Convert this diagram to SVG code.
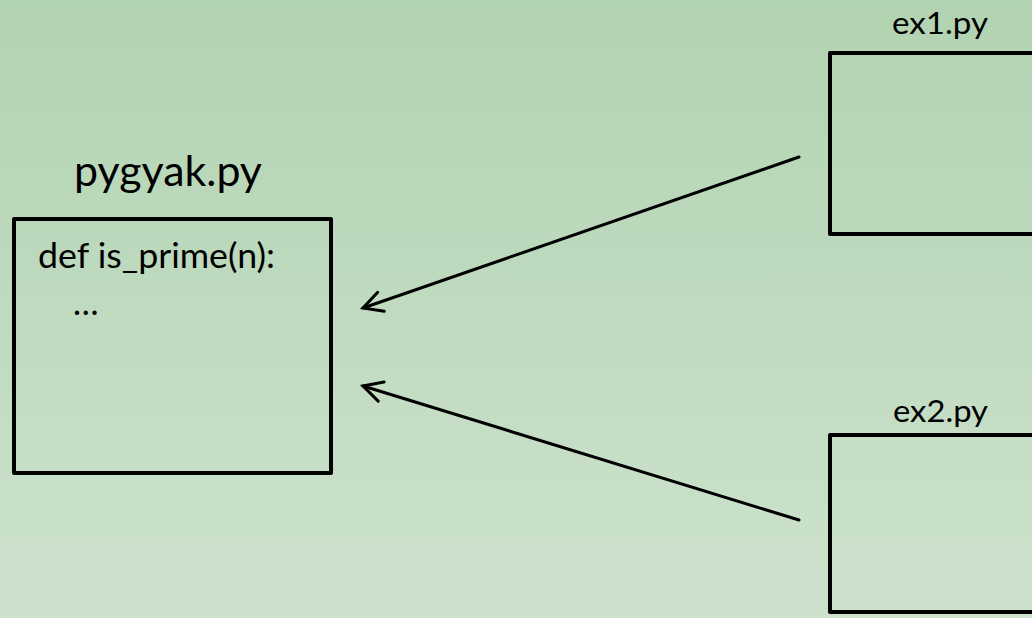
<svg xmlns="http://www.w3.org/2000/svg" width="1032" height="618" viewBox="0 0 1032 618">
<style>
.box{fill:none;stroke:#000;stroke-width:4;stroke-linejoin:round}
.lbl{font-family:Lato,"Open Sans","Liberation Sans",sans-serif;fill:#000}
.conn{fill:none;stroke:#000;stroke-width:3;stroke-linecap:round}
</style>
<defs>
<linearGradient id="bg" x1="0" y1="0" x2="0" y2="1">
<stop offset="0" stop-color="#b2d3b2"/>
<stop offset="1" stop-color="#cde2cd"/>
</linearGradient>
<marker id="arr" markerUnits="userSpaceOnUse" orient="auto" refX="0" refY="0" overflow="visible">
<path d="M-19,-10 L0,0 L-19,10" fill="none" stroke="#000" stroke-width="3" stroke-linecap="round" stroke-linejoin="miter"/>
</marker>
</defs>
<rect x="0" y="0" width="1032" height="618" fill="url(#bg)"/>
<g id="pygyak">
<text class="lbl" x="74" y="186" font-size="42" textLength="188" lengthAdjust="spacingAndGlyphs">pygyak.py</text>
<rect class="box" x="14" y="219" width="317" height="254"/>
<text class="lbl" x="38" y="268" font-size="34" textLength="237" lengthAdjust="spacingAndGlyphs">def is_prime(n):</text>
<text class="lbl" x="73" y="315" font-size="34">…</text>
</g>
<g id="ex1">
<text class="lbl" x="892" y="34" font-size="31" textLength="96" lengthAdjust="spacingAndGlyphs">ex1.py</text>
<rect class="box" x="830" y="53" width="220" height="181"/>
</g>
<g id="ex2">
<text class="lbl" x="893" y="422" font-size="31" textLength="95" lengthAdjust="spacingAndGlyphs">ex2.py</text>
<rect class="box" x="830" y="435" width="220" height="177"/>
</g>
<g id="connectors">
<line class="conn" x1="799" y1="157" x2="363" y2="308" marker-end="url(#arr)"/>
<line class="conn" x1="799" y1="520" x2="363" y2="386" marker-end="url(#arr)"/>
</g>
</svg>
